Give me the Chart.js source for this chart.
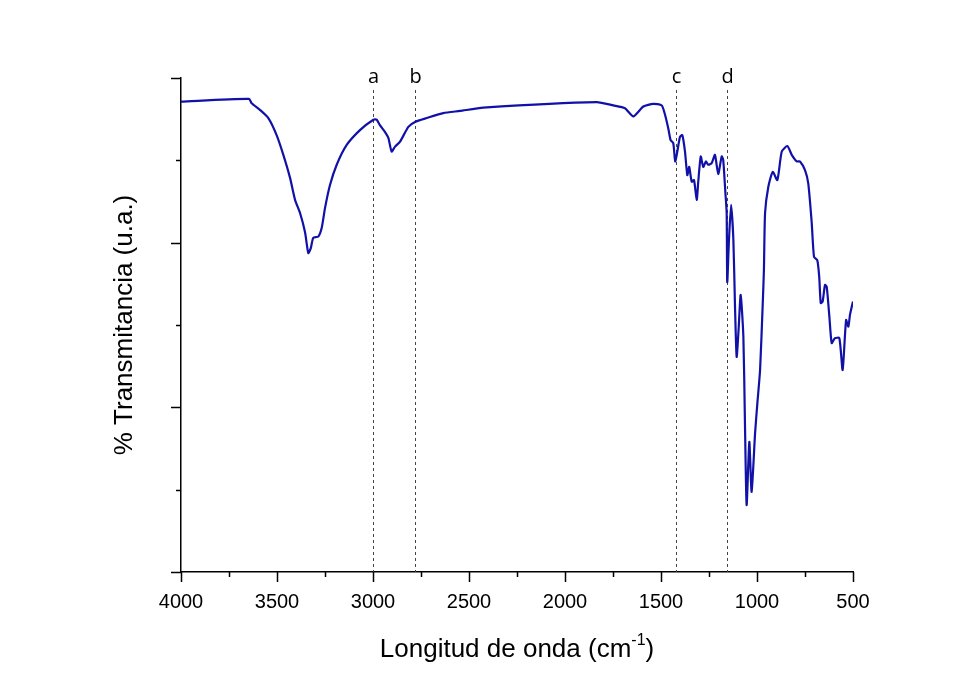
<!DOCTYPE html>
<html>
<head>
<meta charset="utf-8">
<script src="https://cdn.jsdelivr.net/npm/chart.js@4"></script>
<style>
  html, body { margin: 0; padding: 0; background: #fff; }
  #wrap { width: 977px; height: 681px; }
</style>
</head>
<body>
<div id="wrap"><canvas id="chart" width="977" height="681"></canvas></div>
<script>
// spectrum (x: cm-1, y: transmittance, arbitrary units)
const waveNumbers = [
  4000, 3646, 3632, 3589, 3545, 3502, 3467, 3432, 3406, 3380,
  3354, 3337, 3324, 3311, 3285, 3267, 3250, 3224, 3189, 3137,
  3068, 2998, 2981, 2964, 2938, 2920, 2903, 2885, 2859, 2816,
  2781, 2720, 2634, 2547, 2426, 1835, 1748, 1688, 1644, 1592,
  1540, 1496, 1479, 1462, 1450, 1436, 1426, 1415, 1401, 1389,
  1375, 1363, 1353, 1340, 1328, 1314, 1306, 1293, 1280, 1266,
  1254, 1236, 1219, 1202, 1184, 1176, 1165, 1158, 1155, 1146,
  1135, 1123, 1115, 1106, 1096, 1085, 1071, 1063, 1054, 1040,
  1028, 1010, 998, 984, 970, 964, 958, 941, 918, 894,
  871, 842, 819, 793, 776, 750, 733, 715, 703, 686,
  676, 668, 658, 646, 637, 623, 611, 594, 571, 554,
  536, 524, 516, 500
];
const transmittance = [
  85.7, 86.2, 85.4, 84.2, 82.7, 79.6, 76.0, 71.8, 67.8, 65.4,
  61.9, 58.1, 59.0, 60.9, 61.1, 62.7, 66.3, 70.5, 74.2, 77.8,
  80.5, 82.4, 82.4, 81.4, 80.2, 79.1, 76.6, 77.5, 78.4, 81.1,
  82.0, 82.7, 83.6, 84.0, 84.6, 85.6, 85.0, 84.5, 83.0, 84.8,
  85.3, 85.0, 83.3, 80.8, 78.7, 78.1, 74.8, 76.6, 79.3, 79.6,
  76.6, 72.3, 73.8, 71.1, 71.4, 67.8, 71.1, 75.7, 73.8, 74.8,
  74.2, 74.5, 76.0, 72.5, 75.7, 75.1, 69.3, 65.4, 52.8, 60.5,
  66.9, 60.5, 49.0, 39.2, 44.1, 50.5, 42.9, 27.7, 12.2, 23.7,
  14.6, 25.3, 30.8, 36.8, 49.0, 55.0, 65.4, 70.2, 72.9, 71.4,
  76.6, 77.6, 76.0, 74.8, 74.8, 73.2, 70.8, 63.6, 57.4, 56.8,
  53.8, 49.0, 49.3, 52.3, 52.0, 46.5, 41.7, 42.6, 42.6, 36.8,
  45.9, 44.7, 46.8, 49.3
];

// band markers
const markerPositions = [3000, 2780, 1420, 1155];
const markerLabels = ['a', 'b', 'c', 'd'];

// axis ticks
const xTickLabels = [4000, 3500, 3000, 2500, 2000, 1500, 1000, 500];
const yMajorTicks = [0, 30, 60, 90];

const xTitle = 'Longitud de onda (cm';
const xTitleSup = '-1';
const yTitle = '% Transmitancia (u.a.)';

const points = waveNumbers.map((w, i) => ({ x: w, y: transmittance[i] }));

const axisColor = '#000';
const lineColor = '#1111a8';

// dashed marker lines with letters, own ticks and axis titles
const decorPlugin = {
  id: 'decor',
  beforeDatasetsDraw(chart) {
    const { ctx, chartArea, scales } = chart;
    ctx.save();
    ctx.strokeStyle = '#444';
    ctx.lineWidth = 1;
    ctx.setLineDash([3, 3]);
    ctx.fillStyle = '#000';
    ctx.font = '20px "Open Sans", sans-serif';
    ctx.textAlign = 'center';
    ctx.textBaseline = 'alphabetic';
    markerPositions.forEach((w, i) => {
      const px = Math.round(scales.x.getPixelForValue(w)) + 0.5;
      ctx.beginPath();
      ctx.moveTo(px, chartArea.top + 12);
      ctx.lineTo(px, chartArea.bottom);
      ctx.stroke();
      ctx.fillText(markerLabels[i], px, chartArea.top + 5);
    });
    ctx.restore();
  },
  afterDraw(chart) {
    const { ctx, chartArea, scales } = chart;
    ctx.save();
    ctx.strokeStyle = axisColor;
    ctx.lineWidth = 1.5;
    // x ticks
    scales.x.ticks.forEach(t => {
      const px = Math.round(scales.x.getPixelForValue(t.value)) + 0.5;
      const len = xTickLabels.includes(t.value) ? 10 : 5;
      ctx.beginPath();
      ctx.moveTo(px, chartArea.bottom);
      ctx.lineTo(px, chartArea.bottom + len);
      ctx.stroke();
    });
    // y ticks
    scales.y.ticks.forEach(t => {
      const py = Math.round(scales.y.getPixelForValue(t.value)) + 0.5;
      const len = yMajorTicks.includes(t.value) ? 10 : 5;
      ctx.beginPath();
      ctx.moveTo(chartArea.left, py);
      ctx.lineTo(chartArea.left - len, py);
      ctx.stroke();
    });
    // x title with superscript
    ctx.fillStyle = '#000';
    ctx.textBaseline = 'alphabetic';
    ctx.textAlign = 'left';
    const mainFont = '26px "Liberation Sans", Arial, sans-serif';
    const supFont = '16px "Liberation Sans", Arial, sans-serif';
    ctx.font = mainFont;
    const w1 = ctx.measureText(xTitle).width;
    const w3 = ctx.measureText(')').width;
    ctx.font = supFont;
    const w2 = ctx.measureText(xTitleSup).width;
    const cx = (chartArea.left + chartArea.right) / 2;
    let x0 = cx - (w1 + w2 + w3) / 2;
    const base = chartArea.bottom + 85;
    ctx.font = mainFont;
    ctx.fillText(xTitle, x0, base);
    ctx.font = supFont;
    ctx.fillText(xTitleSup, x0 + w1, base - 12);
    ctx.font = mainFont;
    ctx.fillText(')', x0 + w1 + w2, base);
    // y title
    ctx.translate(chartArea.left - 56, (chartArea.top + chartArea.bottom) / 2);
    ctx.rotate(-Math.PI / 2);
    ctx.textAlign = 'center';
    ctx.textBaseline = 'middle';
    ctx.font = mainFont;
    ctx.fillText(yTitle, 0, 0);
    ctx.restore();
  }
};

new Chart(document.getElementById('chart'), {
  type: 'line',
  data: {
    datasets: [{
      data: points,
      borderColor: lineColor,
      borderWidth: 2.2,
      pointRadius: 0,
      tension: 0.2,
      fill: false
    }]
  },
  options: {
    responsive: false,
    animation: false,
    devicePixelRatio: 1,
    layout: { padding: { left: 0, right: 124, top: 78, bottom: 0 } },
    plugins: { legend: { display: false }, tooltip: { enabled: false } },
    scales: {
      x: {
        type: 'linear',
        reverse: true,
        min: 500,
        max: 4000,
        afterFit(scale) { scale.height = 109; },
        grid: { display: false, drawTicks: false },
        border: { display: true, color: axisColor, width: 1.5 },
        ticks: {
          stepSize: 250,
          autoSkip: false,
          maxRotation: 0,
          padding: 18,
          color: '#000',
          font: { family: '"Liberation Sans", Arial, sans-serif', size: 20 },
          callback: v => xTickLabels.includes(v) ? String(v) : ''
        }
      },
      y: {
        min: 0,
        max: 90,
        afterFit(scale) { scale.width = 181; },
        grid: { display: false, drawTicks: false },
        border: { display: true, color: axisColor, width: 1.5 },
        ticks: { stepSize: 15, display: false }
      }
    }
  },
  plugins: [decorPlugin]
});
</script>
</body>
</html>
